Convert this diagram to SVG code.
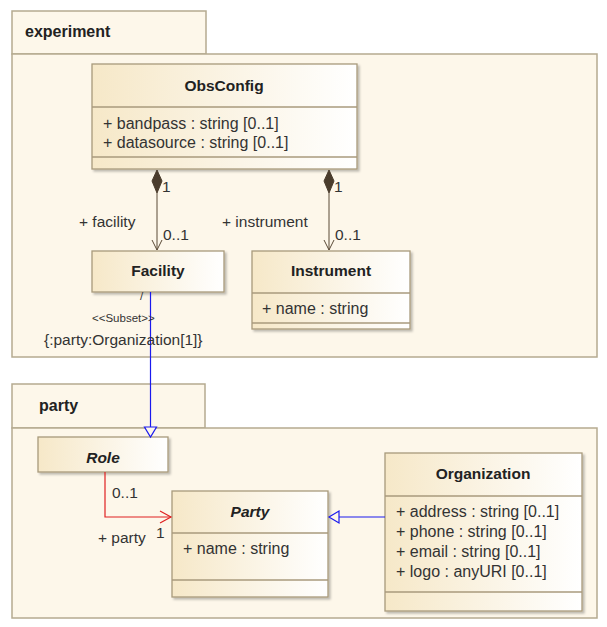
<svg xmlns="http://www.w3.org/2000/svg" width="607" height="627" viewBox="0 0 607 627">
<defs>
<linearGradient id="cg" x1="0" y1="0" x2="1" y2="0">
<stop offset="0" stop-color="#f6e8c8"/>
<stop offset="1" stop-color="#ffffff"/>
</linearGradient>
<filter id="sh" x="-5%" y="-5%" width="115%" height="120%">
<feDropShadow dx="2" dy="2" stdDeviation="1" flood-color="#000" flood-opacity="0.25"/>
</filter>
<marker id="openBrown" markerWidth="12" markerHeight="12" refX="6" refY="11" orient="0" markerUnits="userSpaceOnUse">
<path d="M1,1 L6,11 L11,1" fill="none" stroke="#5a4a36" stroke-width="1"/>
</marker>
</defs>
<style>
.pkg{fill:#fdf7ea;stroke:#b5aa90;stroke-width:1.5}
.cls{fill:url(#cg);stroke:#a89a7c;stroke-width:1.3;filter:url(#sh)}
.div{stroke:#a89a7c;stroke-width:1.3}
text{font-family:"Liberation Sans",Arial,sans-serif;fill:#222}
.pk{font-size:16px;font-weight:bold}
.cn{font-size:15.5px;font-weight:bold;text-anchor:middle}
.at{font-size:16px;fill:#333}
.lb{font-size:15.5px;fill:#333}
.sm{font-size:11.5px;fill:#333}
</style>
<g id="pkg-experiment">
<rect class="pkg" x="12" y="11" width="194" height="43"/>
<rect class="pkg" x="12" y="54" width="585" height="303"/>
<text class="pk" x="25" y="37">experiment</text>
</g>
<g id="pkg-party">
<rect class="pkg" x="12" y="384" width="193" height="44"/>
<rect class="pkg" x="12" y="428" width="585" height="190"/>
<text class="pk" x="39" y="411">party</text>
</g>
<g id="ObsConfig">
<rect class="cls" x="92" y="64" width="265" height="105"/>
<line class="div" x1="92" y1="107" x2="357" y2="107"/>
<line class="div" x1="92" y1="157" x2="357" y2="157"/>
<text class="cn" x="224" y="91">ObsConfig</text>
<text class="at" x="103" y="129">+ bandpass : string [0..1]</text>
<text class="at" x="103" y="148">+ datasource : string [0..1]</text>
</g>
<g id="Facility">
<rect class="cls" x="92" y="251" width="132" height="41"/>
<text class="cn" x="158" y="276">Facility</text>
</g>
<g id="Instrument">
<rect class="cls" x="252" y="251" width="158" height="78"/>
<line class="div" x1="252" y1="293" x2="410" y2="293"/>
<line class="div" x1="252" y1="323" x2="410" y2="323"/>
<text class="cn" x="331" y="276">Instrument</text>
<text class="at" x="262" y="314">+ name : string</text>
</g>
<g id="Role">
<rect class="cls" x="38" y="437" width="130" height="35"/>
<text class="cn" x="103" y="463" font-style="italic">Role</text>
</g>
<g id="Party">
<rect class="cls" x="172" y="491" width="156" height="106"/>
<line class="div" x1="172" y1="533" x2="328" y2="533"/>
<line class="div" x1="172" y1="580" x2="328" y2="580"/>
<text class="cn" x="250" y="517" font-style="italic">Party</text>
<text class="at" x="183" y="554">+ name : string</text>
</g>
<g id="Organization">
<rect class="cls" x="385" y="453" width="197" height="158"/>
<line class="div" x1="385" y1="496" x2="582" y2="496"/>
<line class="div" x1="385" y1="592" x2="582" y2="592"/>
<text class="cn" x="483" y="479">Organization</text>
<text class="at" x="396" y="517">+ address : string [0..1]</text>
<text class="at" x="396" y="537">+ phone : string [0..1]</text>
<text class="at" x="396" y="557">+ email : string [0..1]</text>
<text class="at" x="396" y="577">+ logo : anyURI [0..1]</text>
</g>
<g id="connectors">
<!-- ObsConfig -> Facility composition -->
<path d="M157,170 L162,181 L157,193 L152,181 Z" fill="#4a3c2c" stroke="#4a3c2c"/>
<line x1="157" y1="193" x2="157" y2="250" stroke="#5a4a36" stroke-width="1" marker-end="url(#openBrown)"/>
<text class="lb" x="162" y="192">1</text>
<text class="lb" x="79" y="227">+ facility</text>
<text class="lb" x="163" y="240">0..1</text>
<!-- ObsConfig -> Instrument composition -->
<path d="M329,170 L334,181 L329,193 L324,181 Z" fill="#4a3c2c" stroke="#4a3c2c"/>
<line x1="329" y1="193" x2="329" y2="250" stroke="#5a4a36" stroke-width="1" marker-end="url(#openBrown)"/>
<text class="lb" x="334" y="192">1</text>
<text class="lb" x="222" y="227">+ instrument</text>
<text class="lb" x="335" y="240">0..1</text>
<!-- Facility -> Role generalization -->
<line x1="150.5" y1="292" x2="150.5" y2="427" stroke="#1a1aee" stroke-width="1.2"/>
<path d="M144.5,427 L156.5,427 L150.5,437 Z" fill="#fdf7ea" stroke="#1a1aee" stroke-width="1.2"/>
<text class="sm" x="140" y="300">/</text>
<text class="sm" x="92" y="322">&lt;&lt;Subset&gt;&gt;</text>
<text class="lb" x="44" y="345">{:party:Organization[1]}</text>
<!-- Role -> Party association -->
<polyline points="105,472 105,517 171,517" fill="none" stroke="#e02020" stroke-width="1.2"/>
<path d="M160,511 L171,517 L160,523" fill="none" stroke="#e02020" stroke-width="1.2"/>
<text class="lb" x="112" y="498">0..1</text>
<text class="lb" x="98" y="543">+ party</text>
<text class="lb" x="156" y="538">1</text>
<!-- Organization -> Party generalization -->
<line x1="385" y1="517" x2="339" y2="517" stroke="#1a1aee" stroke-width="1.2"/>
<path d="M339,511 L339,523 L329,517 Z" fill="#fdf7ea" stroke="#1a1aee" stroke-width="1.2"/>
</g>
</svg>
